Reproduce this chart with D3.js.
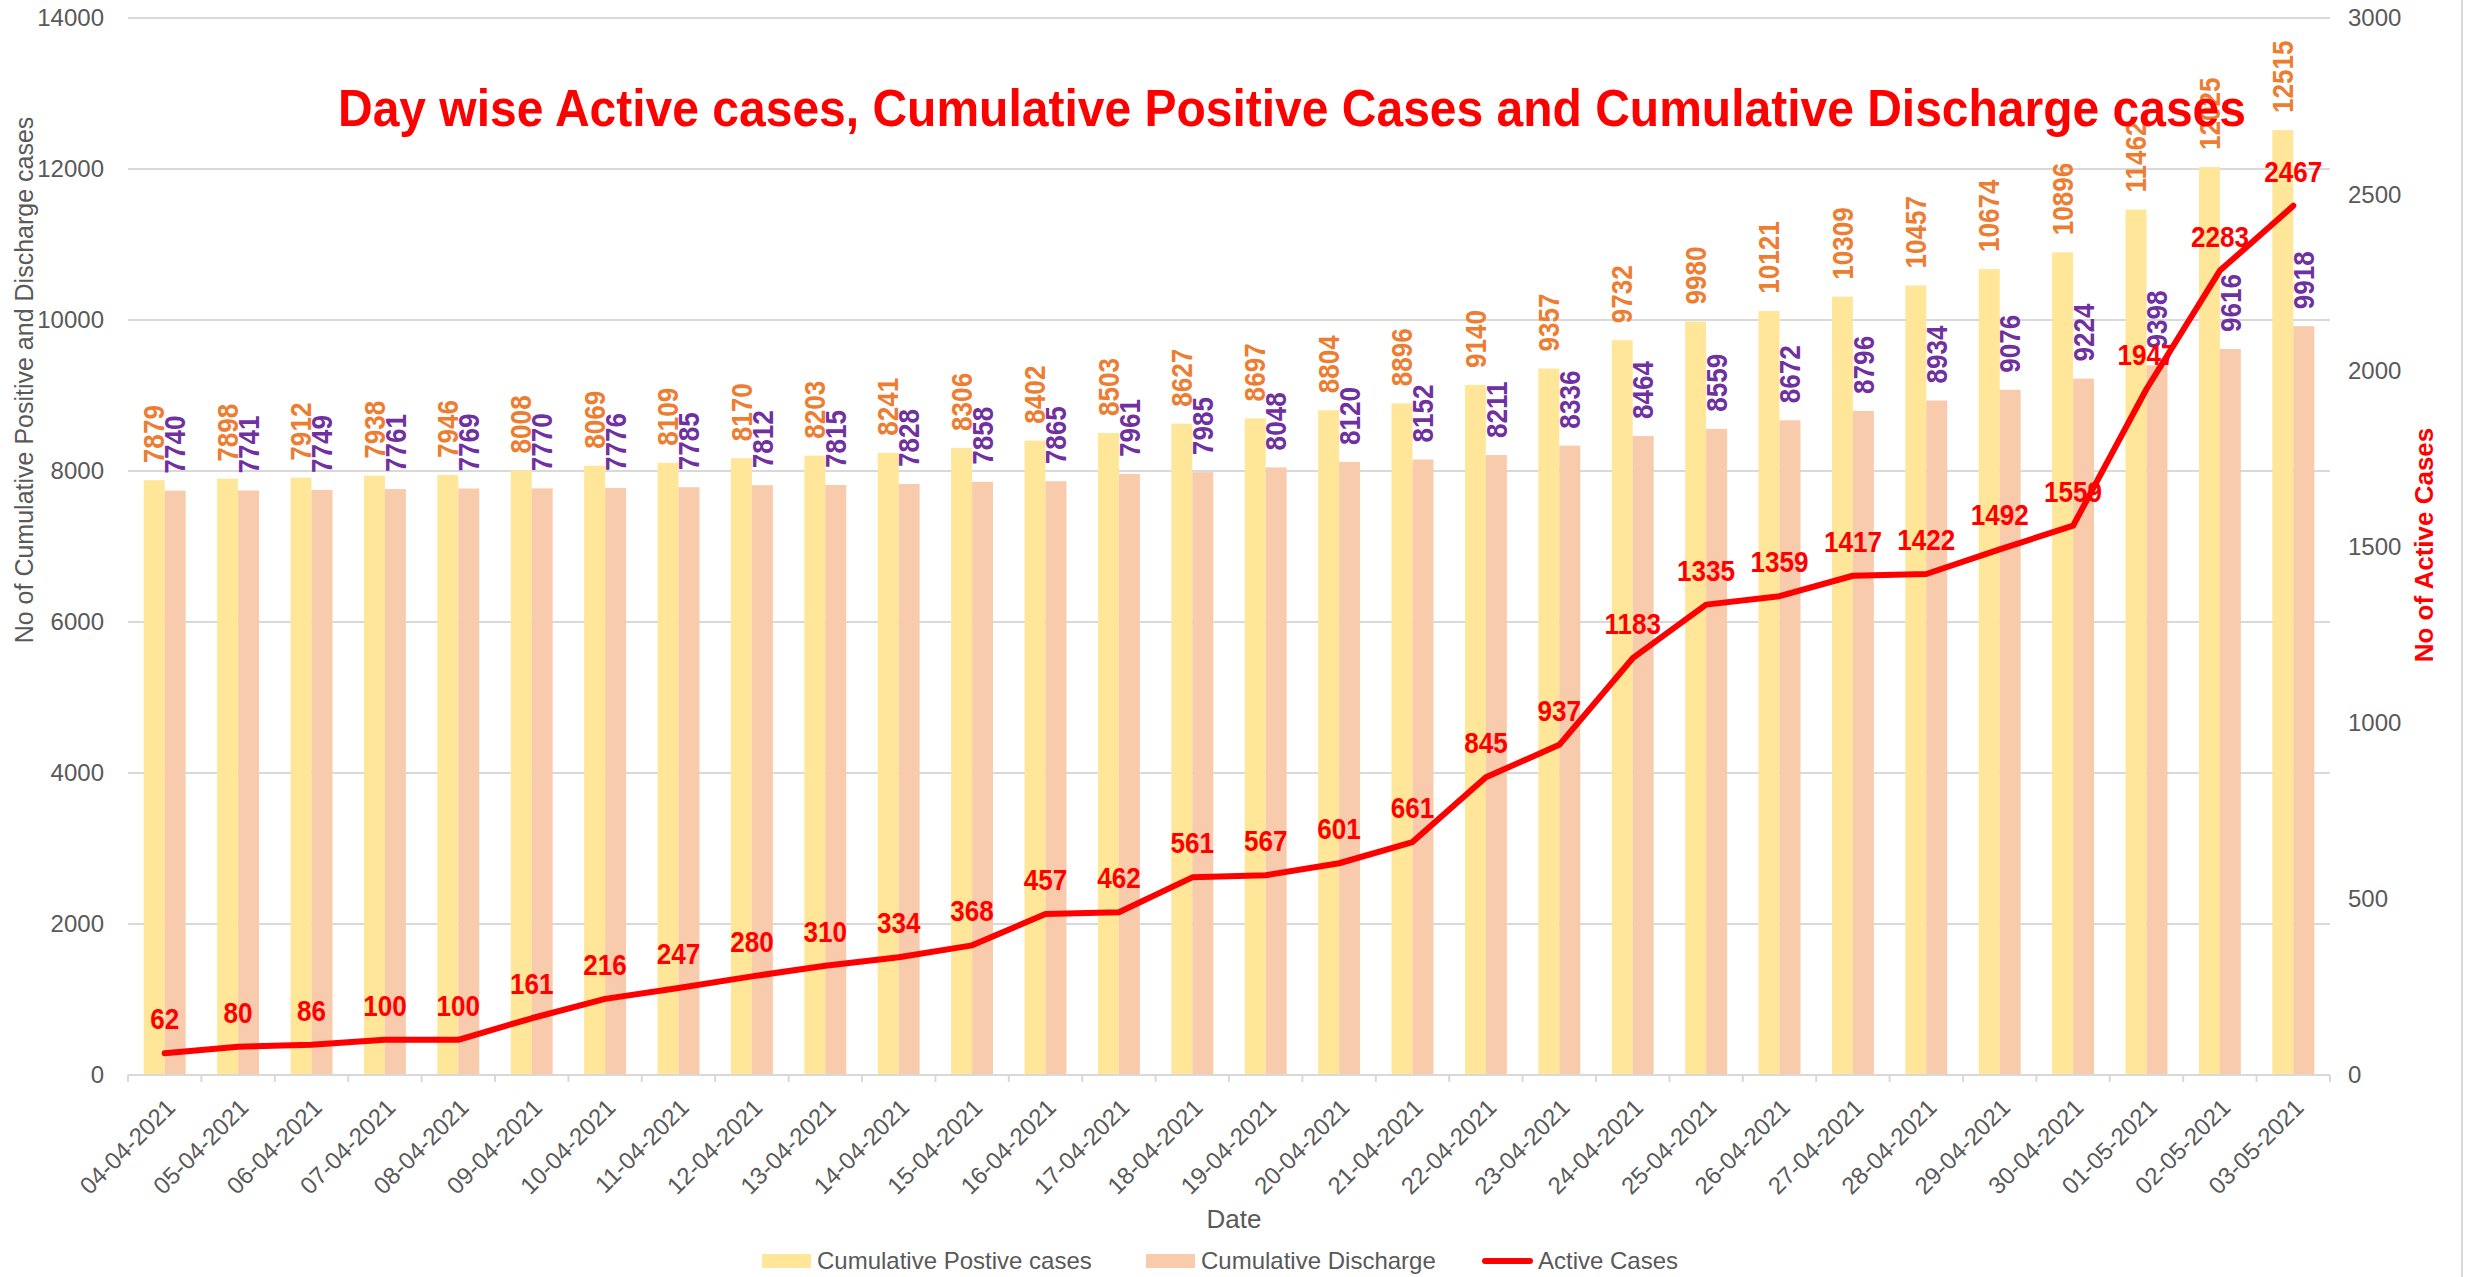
<!DOCTYPE html>
<html>
<head>
<meta charset="utf-8">
<script src="https://cdn.jsdelivr.net/npm/d3@7"></script>
<style>
  body { margin: 0; background: #fff; }
  svg text { font-family: "Liberation Sans", Arial, sans-serif; }
</style>
</head>
<body>
<div id="chart"></div>
<script>
// Chart data
const dates = ["04-04-2021", "05-04-2021", "06-04-2021", "07-04-2021", "08-04-2021", "09-04-2021",
  "10-04-2021", "11-04-2021", "12-04-2021", "13-04-2021", "14-04-2021", "15-04-2021", "16-04-2021",
  "17-04-2021", "18-04-2021", "19-04-2021", "20-04-2021", "21-04-2021", "22-04-2021", "23-04-2021",
  "24-04-2021", "25-04-2021", "26-04-2021", "27-04-2021", "28-04-2021", "29-04-2021", "30-04-2021",
  "01-05-2021", "02-05-2021", "03-05-2021"];
const positive = [7879, 7898, 7912, 7938, 7946, 8008, 8069, 8109, 8170, 8203, 8241, 8306, 8402, 8503,
  8627, 8697, 8804, 8896, 9140, 9357, 9732, 9980, 10121, 10309, 10457, 10674, 10896, 11462, 12025, 12515];
const discharge = [7740, 7741, 7749, 7761, 7769, 7770, 7776, 7785, 7812, 7815, 7828, 7858, 7865, 7961,
  7985, 8048, 8120, 8152, 8211, 8336, 8464, 8559, 8672, 8796, 8934, 9076, 9224, 9398, 9616, 9918];
const active = [62, 80, 86, 100, 100, 161, 216, 247, 280, 310, 334, 368, 457, 462, 561, 567, 601, 661,
  845, 937, 1183, 1335, 1359, 1417, 1422, 1492, 1559, 1947, 2283, 2467];
const leftTicks = [0, 2000, 4000, 6000, 8000, 10000, 12000, 14000];
const rightTicks = [0, 500, 1000, 1500, 2000, 2500, 3000];

const W = 2468, H = 1277;
const plotL = 128, plotR = 2330, plotT = 18, plotB = 1075;
const grid = "#D9D9D9", tickColor = "#595959";
const labelSize = 29, labelSquash = 0.9;

const svg = d3.select("#chart").append("svg")
  .attr("width", W).attr("height", H);

const x = d3.scaleBand().domain(dates).range([plotL, plotR]).padding(0);
const groupW = x.bandwidth() / 1.75;
const x1 = d3.scaleBand().domain(["pos", "dis"]).range([-groupW / 2, groupW / 2]);
const yL = d3.scaleLinear().domain([0, 14000]).range([plotB, plotT]);
const yR = d3.scaleLinear().domain([0, 3000]).range([plotB, plotT]);
const cx = d => x(d) + x.bandwidth() / 2;

// gridlines
svg.append("g").selectAll("line")
  .data(leftTicks.filter(d => d > 0))
  .enter().append("line")
  .attr("x1", plotL).attr("x2", plotR)
  .attr("y1", d => yL(d)).attr("y2", d => yL(d))
  .attr("stroke", grid).attr("stroke-width", 2);

// right border of chart area
svg.append("line")
  .attr("x1", 2462).attr("x2", 2462).attr("y1", 0).attr("y2", H)
  .attr("stroke", grid).attr("stroke-width", 2);

// bars
const groups = svg.append("g").selectAll("g")
  .data(dates)
  .enter().append("g")
  .attr("transform", d => "translate(" + cx(d) + ",0)");

groups.append("rect")
  .attr("x", x1("pos")).attr("width", x1.bandwidth())
  .attr("y", (d, i) => yL(positive[i]))
  .attr("height", (d, i) => plotB - yL(positive[i]))
  .attr("fill", "#FFE699");

groups.append("rect")
  .attr("x", x1("dis")).attr("width", x1.bandwidth())
  .attr("y", (d, i) => yL(discharge[i]))
  .attr("height", (d, i) => plotB - yL(discharge[i]))
  .attr("fill", "#F8CBAD");

// x axis line + ticks
svg.append("line")
  .attr("x1", plotL).attr("x2", plotR).attr("y1", plotB).attr("y2", plotB)
  .attr("stroke", grid).attr("stroke-width", 2);
const boundaries = dates.map(d => x(d)).concat([plotR]);
svg.append("g").selectAll("line")
  .data(boundaries)
  .enter().append("line")
  .attr("x1", d => d).attr("x2", d => d)
  .attr("y1", plotB).attr("y2", plotB + 7)
  .attr("stroke", grid).attr("stroke-width", 2);

// x tick labels
svg.append("g").selectAll("text")
  .data(dates)
  .enter().append("text")
  .attr("transform", d => "translate(" + (cx(d) + 6) + "," + (plotB + 28) + ") rotate(-45)")
  .attr("text-anchor", "end")
  .attr("dy", "0.35em")
  .attr("font-size", 24)
  .attr("fill", tickColor)
  .text(d => d);

// left y tick labels
svg.append("g").selectAll("text")
  .data(leftTicks)
  .enter().append("text")
  .attr("x", 104).attr("y", d => yL(d))
  .attr("dy", "0.35em")
  .attr("text-anchor", "end")
  .attr("font-size", 24)
  .attr("fill", tickColor)
  .text(d => d);

// right y tick labels
svg.append("g").selectAll("text")
  .data(rightTicks)
  .enter().append("text")
  .attr("x", 2348).attr("y", d => yR(d))
  .attr("dy", "0.35em")
  .attr("text-anchor", "start")
  .attr("font-size", 24)
  .attr("fill", tickColor)
  .text(d => d);

// axis titles
svg.append("text")
  .attr("transform", "translate(24,380) rotate(-90)")
  .attr("text-anchor", "middle").attr("dy", "0.35em")
  .attr("font-size", 25).attr("fill", tickColor)
  .text("No of Cumulative Positive and Discharge cases");

svg.append("text")
  .attr("transform", "translate(2424,545) rotate(-90)")
  .attr("text-anchor", "middle").attr("dy", "0.35em")
  .attr("font-size", 26).attr("font-weight", "bold").attr("fill", "#FF0000")
  .text("No of Active Cases");

svg.append("text")
  .attr("x", 1234).attr("y", 1228)
  .attr("text-anchor", "middle")
  .attr("font-size", 26).attr("fill", tickColor)
  .text("Date");

// active cases line
const line = d3.line()
  .x((d, i) => cx(dates[i]))
  .y(d => yR(d));
svg.append("path")
  .datum(active)
  .attr("d", line)
  .attr("fill", "none")
  .attr("stroke", "#FF0000")
  .attr("stroke-width", 6)
  .attr("stroke-linejoin", "round")
  .attr("stroke-linecap", "round");

// bar labels (rotated, slightly condensed)
groups.append("text")
  .attr("transform", (d, i) => "translate(" + (x1("pos") + x1.bandwidth() / 2) + "," + (yL(positive[i]) - 17) + ") rotate(-90) scale(" + labelSquash + ",1)")
  .attr("dy", "0.35em")
  .attr("font-size", labelSize).attr("font-weight", "bold")
  .attr("fill", "#ED7D31")
  .text((d, i) => positive[i]);

groups.append("text")
  .attr("transform", (d, i) => "translate(" + (x1("dis") + x1.bandwidth() / 2) + "," + (yL(discharge[i]) - 17) + ") rotate(-90) scale(" + labelSquash + ",1)")
  .attr("dy", "0.35em")
  .attr("font-size", labelSize).attr("font-weight", "bold")
  .attr("fill", "#7030A0")
  .text((d, i) => discharge[i]);

// active labels
svg.append("g").selectAll("text")
  .data(active)
  .enter().append("text")
  .attr("transform", (d, i) => "translate(" + cx(dates[i]) + "," + (yR(d) - 24) + ") scale(" + labelSquash + ",1)")
  .attr("text-anchor", "middle")
  .attr("font-size", labelSize).attr("font-weight", "bold")
  .attr("fill", "#FF0000")
  .text(d => d);

// legend
const legend = [
  { label: "Cumulative Postive cases", color: "#FFE699", type: "rect", x: 762 },
  { label: "Cumulative Discharge", color: "#F8CBAD", type: "rect", x: 1146 },
  { label: "Active Cases", color: "#FF0000", type: "line", x: 1483 }
];
const lg = svg.append("g").selectAll("g")
  .data(legend)
  .enter().append("g")
  .attr("transform", d => "translate(" + d.x + ",1261)");
lg.filter(d => d.type === "rect").append("rect")
  .attr("x", 0).attr("y", -7).attr("width", 49).attr("height", 14)
  .attr("fill", d => d.color);
lg.filter(d => d.type === "line").append("line")
  .attr("x1", 2).attr("x2", 47).attr("y1", 0).attr("y2", 0)
  .attr("stroke", d => d.color).attr("stroke-width", 6).attr("stroke-linecap", "round");
lg.append("text")
  .attr("x", 55).attr("dy", "0.35em")
  .attr("font-size", 24).attr("fill", tickColor)
  .text(d => d.label);

// chart title
svg.append("text")
  .attr("x", 1292).attr("y", 126)
  .attr("text-anchor", "middle")
  .attr("font-size", 52).attr("font-weight", "bold")
  .attr("fill", "#FF0000")
  .attr("textLength", 1908).attr("lengthAdjust", "spacingAndGlyphs")
  .text("Day wise Active cases, Cumulative Positive Cases and Cumulative Discharge cases");
</script>
</body>
</html>
